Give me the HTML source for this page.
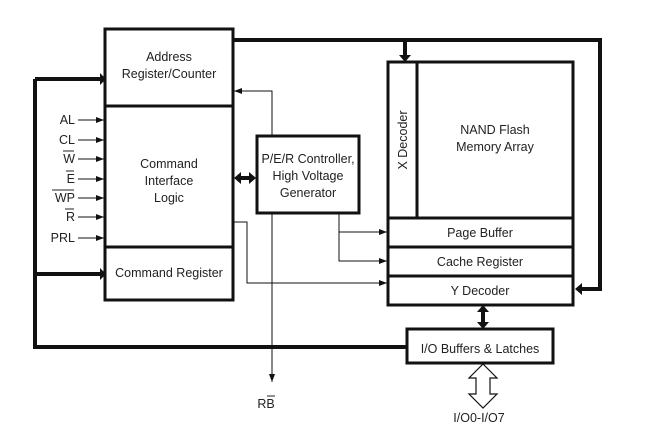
<!DOCTYPE html>
<html><head><style>body{margin:0;background:#fff}svg{display:block}</style></head><body>
<svg width="654" height="431" viewBox="0 0 654 431" xmlns="http://www.w3.org/2000/svg" font-family="Liberation Sans, sans-serif" font-size="12.5" fill="#222">
<defs>
<marker id="a" markerWidth="8" markerHeight="6" refX="8" refY="3" orient="auto" markerUnits="userSpaceOnUse"><path d="M0,0 L8,3 L0,6z" fill="#111"/></marker>
</defs>
<g stroke="#111" fill="none">
<g stroke-width="4">
<path d="M35,79 V347 H407"/>
<path d="M35,79 H100"/><path d="M35,274 H100"/>
<path d="M233,40 H600 V289 H582"/>
<path d="M405,40 V56"/>
<path d="M240,178 H250"/>
<path d="M483,311 V323"/>
</g>
<path d="M100,73 L106,79 L100,85z M100,268 L106,274 L100,280z" fill="#111" stroke="none"/>
<path d="M399,55 L405,62 L411,55z" fill="#111" stroke="none"/>
<path d="M582,283 L575,289 L582,295z" fill="#111" stroke="none"/>
<path d="M241,172 L234,178 L241,184z M249,172 L256,178 L249,184z" fill="#111" stroke="none"/>
<path d="M477,312 L483,305 L489,312z M477,322 L483,329 L489,322z" fill="#111" stroke="none"/>
<g stroke-width="3">
<rect x="105" y="29" width="128" height="271"/>
<line x1="105" y1="106" x2="233" y2="106"/>
<line x1="105" y1="247" x2="233" y2="247"/>
<rect x="257" y="136" width="102" height="77"/>
<rect x="388" y="62" width="185" height="243"/>
<line x1="417" y1="62" x2="417" y2="218"/>
<line x1="388" y1="218" x2="573" y2="218"/>
<line x1="388" y1="247" x2="573" y2="247"/>
<line x1="388" y1="276" x2="573" y2="276"/>
<rect x="407" y="329" width="146" height="34"/>
</g>
<g stroke-width="1">
<path d="M78,120 H104" marker-end="url(#a)"/>
<path d="M78,140 H104" marker-end="url(#a)"/>
<path d="M78,159 H104" marker-end="url(#a)"/>
<path d="M78,179 H104" marker-end="url(#a)"/>
<path d="M78,198 H104" marker-end="url(#a)"/>
<path d="M78,217 H104" marker-end="url(#a)"/>
<path d="M78,238 H104" marker-end="url(#a)"/>
<path d="M272,136 V91 H234" marker-end="url(#a)"/>
<path d="M272,213 V382" marker-end="url(#a)"/>
<path d="M234,222 H247 V283 H387" marker-end="url(#a)"/>
<path d="M339,213 V232 H387" marker-end="url(#a)"/>
<path d="M339,232 V261 H387" marker-end="url(#a)"/>
<path d="M483,364 L497,378 H490 V394 H497 L483,408 L469,394 H476 V378 H469 Z" stroke-width="1.2" fill="#fff"/>
</g>
</g>
<g text-anchor="middle">
<text x="169" y="61">Address</text><text x="169" y="78">Register/Counter</text>
<text x="169" y="168">Command</text><text x="169" y="185">Interface</text><text x="169" y="202">Logic</text>
<text x="169" y="277">Command Register</text>
<text x="308" y="163">P/E/R Controller,</text><text x="308" y="180">High Voltage</text><text x="308" y="197">Generator</text>
<text x="495" y="134">NAND Flash</text><text x="495" y="151">Memory Array</text>
<text x="480" y="237">Page Buffer</text>
<text x="480" y="266">Cache Register</text>
<text x="480" y="295">Y Decoder</text>
<text x="480" y="353">I/O Buffers &amp; Latches</text>
<text x="479" y="422">I/O0-I/O7</text>
<text x="266" y="408">RB</text>
<text transform="translate(407,140) rotate(-90)">X Decoder</text>
</g>
<g text-anchor="end">
<text x="75" y="124">AL</text><text x="75" y="144">CL</text><text x="75" y="163">W</text><text x="75" y="183">E</text><text x="75" y="202">WP</text><text x="75" y="221">R</text><text x="75" y="242">PRL</text>
</g>
<g stroke="#222" stroke-width="1">
<line x1="63" y1="151" x2="74" y2="151"/><line x1="66" y1="171" x2="74" y2="171"/><line x1="52" y1="190" x2="74" y2="190"/><line x1="65" y1="209" x2="74" y2="209"/><line x1="267" y1="396" x2="275" y2="396"/>
</g>
</svg>
</body></html>
